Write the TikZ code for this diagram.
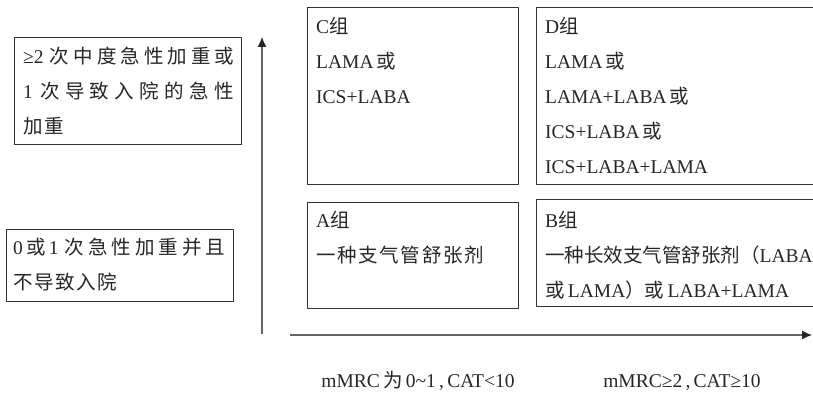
\documentclass[tikz,border=0pt]{standalone}
\usepackage{fontspec}
\setmainfont{Liberation Serif}
\newfontfamily\zhfont{Noto Sans CJK SC}
\newcommand\zh[1]{{\zhfont #1}}
\newcommand\zhw[1]{{\zhfont\XeTeXlinebreakskip=1.7pt plus 4pt #1}}
\XeTeXlinebreaklocale "zh"
\XeTeXlinebreakskip=0pt plus 4pt
\usetikzlibrary{arrows.meta}

\begin{document}
\begin{tikzpicture}[x=1pt,y=-1pt,>={Latex[length=10pt,width=9pt,color=black!85]},line join=round,font=\fontsize{19.5}{35}\selectfont]
\def\xmax{813}
\def\ymax{395}
\tikzset{grp/.style={draw=black!80,line width=0.9pt,anchor=north west,inner sep=0pt},
  txt/.style={anchor=north west,inner sep=0pt,text width=300pt,align=left,text=black!85,execute at begin node=\strut},
  axis/.style={draw=black!60,line width=1.1pt,->}}
\useasboundingbox (0,0) rectangle (\xmax,\ymax);
\clip (0,0) rectangle (\xmax,\ymax);
% rows: exacerbation history
\node[grp,minimum width=227pt,minimum height=107pt] (high) at (14,37) {};
\node[txt,text width=211pt,align=justify] (hightext) at ([xshift=9pt,yshift=-1.5pt]high.north west)
  {≥2 \zhw{次中度急性加重或}\linebreak 1 \zhw{次导致入院的急性}\linebreak\zhw{加重}};
\node[grp,minimum width=227pt,minimum height=72pt] (low) at (6,229) {};
\node[txt,text width=212pt,align=justify] (lowtext) at ([xshift=7pt,yshift=-1.2pt]low.north west)
  {0\,\zhw{或}\,1 \zhw{次急性加重并且}\linebreak\zhw{不导致入院}};
% groups
\node[grp,minimum width=211pt,minimum height=177pt] (C) at (307,7) {};
\node[txt] (Ctext) at ([xshift=9pt,yshift=-1.5pt]C.north west)
  {C\zh{组}\\LAMA\,\zh{或}\\ICS+LABA};
\node[grp,minimum width=294pt,minimum height=177pt] (D) at (536,7) {};
\node[txt] (Dtext) at ([xshift=9pt,yshift=-1.5pt]D.north west)
  {D\zh{组}\\LAMA\,\zh{或}\\LAMA+LABA\,\zh{或}\\ICS+LABA\,\zh{或}\\ICS+LABA+LAMA};
\node[grp,minimum width=211pt,minimum height=106pt] (A) at (307,202) {};
\node[txt] (Atext) at ([xshift=9pt,yshift=-0.5pt]A.north west)
  {A\zh{组}\\\zhw{一种支气管舒张剂}};
\node[grp,minimum width=294pt,minimum height=107pt] (B) at (536,199) {};
\node[txt] (Btext) at ([xshift=9pt,yshift=-3.5pt]B.north west)
  {B\zh{组}\\\zh{一种长效支气管舒张剂（}LABA\\\zh{或}\,LAMA\zh{）或}\,LABA+LAMA};
% axes
\coordinate (ybot) at (262,334);
\coordinate (ytop) at (262,37);
\coordinate (xleft) at (290,335);
\coordinate (xright) at (812,335);
\draw[axis] (ybot) -- (ytop);
\draw[axis] (xleft) -- (xright);
\node[anchor=base,text=black!85] (lowx) at (418,387) {mMRC\,\zh{为}\,0\textasciitilde 1\,,\,CAT<10};
\node[anchor=base,text=black!85] (highx) at (682,387) {mMRC≥2\,,\,CAT≥10};
\end{tikzpicture}
\end{document}
